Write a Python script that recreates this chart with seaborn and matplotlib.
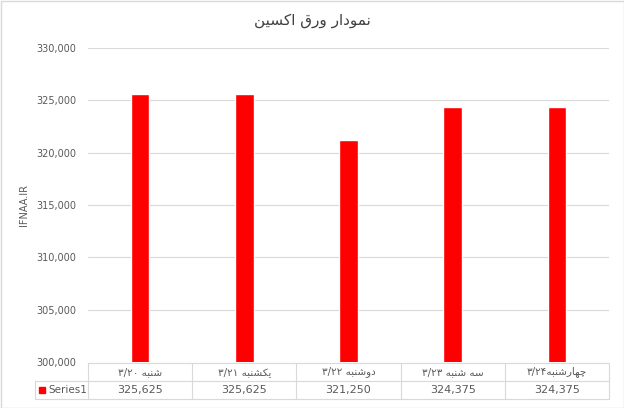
import matplotlib
matplotlib.use('Agg')
import matplotlib.pyplot as plt
import seaborn as sns
import pandas as pd
from matplotlib.patches import Rectangle

# chart data
days = ['شنبه ۳/۲۰', 'یکشنبه ۳/۲۱', 'دوشنبه ۳/۲۲', 'سه شنبه ۳/۲۳', 'چهارشنبه۳/۲۴']
prices = [325625, 325625, 321250, 324375, 324375]
series_name = 'Series1'
title = 'نمودار ورق اکسین'
ylabel = 'IFNAA.IR'

# simple persian shaping (matplotlib has no arabic shaping / rtl)
forms = {
    'ا': ('\uFE8D', '\uFE8E', None, None),
    'ب': ('\uFE8F', '\uFE90', '\uFE91', '\uFE92'),
    'د': ('\uFEA9', '\uFEAA', None, None),
    'ر': ('\uFEAD', '\uFEAE', None, None),
    'س': ('\uFEB1', '\uFEB2', '\uFEB3', '\uFEB4'),
    'ش': ('\uFEB5', '\uFEB6', '\uFEB7', '\uFEB8'),
    'ق': ('\uFED5', '\uFED6', '\uFED7', '\uFED8'),
    'م': ('\uFEE1', '\uFEE2', '\uFEE3', '\uFEE4'),
    'ن': ('\uFEE5', '\uFEE6', '\uFEE7', '\uFEE8'),
    'ه': ('\uFEE9', '\uFEEA', '\uFEEB', '\uFEEC'),
    'و': ('\uFEED', '\uFEEE', None, None),
    'ی': ('\uFBFC', '\uFBFD', '\uFBFE', '\uFBFF'),
    'ک': ('\uFB8E', '\uFB8F', '\uFB90', '\uFB91'),
    'چ': ('\uFB7A', '\uFB7B', '\uFB7C', '\uFB7D'),
}


def shape_word(w):
    out = []
    for i, ch in enumerate(w):
        f = forms[ch]
        prev_joins = i > 0 and forms[w[i - 1]][2] is not None
        next_exists = i < len(w) - 1
        can_join_next = f[2] is not None and next_exists
        if prev_joins and can_join_next:
            out.append(f[3])
        elif prev_joins:
            out.append(f[1])
        elif can_join_next:
            out.append(f[2])
        else:
            out.append(f[0])
    return ''.join(out)


def fa_word(word):
    # split a word into arabic / other runs, shape, lay out right to left
    runs = []
    cur, cur_ar = '', None
    for ch in word:
        is_ar = ch in forms
        if cur and is_ar != cur_ar:
            runs.append((cur, cur_ar))
            cur = ''
        cur += ch
        cur_ar = is_ar
    if cur:
        runs.append((cur, cur_ar))
    parts = [shape_word(r)[::-1] if a else r for r, a in runs]
    return ''.join(parts[::-1])


def fa(text):
    return ' '.join(fa_word(w) for w in text.split(' ')[::-1])


sns.set_theme(style='white')
plt.rcParams['font.family'] = ['DejaVu Sans']
txt = '#595959'
grid = '#d9d9d9'

df = pd.DataFrame({'day': days, 'price': prices})

fig = plt.figure(figsize=(6.24, 4.08), dpi=100)
W, H = 624, 408
x0, x1, y0, y1 = 88, 609, 48, 362
ax = fig.add_axes([x0 / W, 1 - y1 / H, (x1 - x0) / W, (y1 - y0) / H])

sns.barplot(data=df, x='day', y='price', color='#ff0000', width=0.18,
            saturation=1, ax=ax, zorder=3)
ax.set_ylim(300000, 330000)
ax.set_yticks(range(300000, 330001, 5000))
ax.set_yticklabels([f'{v:,}' for v in range(300000, 330001, 5000)],
                   fontsize=7, color=txt)
ax.tick_params(axis='y', length=0, pad=8.5)
ax.set_xticks([])
ax.set_xlabel('')
ax.set_ylabel('')
ax.yaxis.grid(True, color=grid, lw=0.8, zorder=0)
for s in ax.spines.values():
    s.set_visible(False)

fig.text(24 / W, 1 - 205 / H, ylabel, rotation=90, ha='center', va='center',
         fontsize=7, color=txt)
fig.text(312 / W, 1 - 20 / H, fa(title), ha='center', va='center',
         fontsize=11, color='#404040')

# data table under the axis
tl = 35
r0, r1, r2 = 363, 381, 399
n = len(days)
cw = (x1 - x0) / n


def px(x, y):
    return x / W, 1 - y / H


def hline(y, xa, xb):
    fig.add_artist(plt.Line2D([xa / W, xb / W], [1 - y / H, 1 - y / H],
                              color=grid, lw=0.8))


def vline(x, ya, yb):
    fig.add_artist(plt.Line2D([x / W, x / W], [1 - ya / H, 1 - yb / H],
                              color=grid, lw=0.8))


hline(r0, x0, x1)
hline(r1, tl, x1)
hline(r2, tl, x1)
vline(tl, r1, r2)
for i in range(n + 1):
    vline(x0 + i * cw, r0, r2)

for i, (d, p) in enumerate(zip(days, prices)):
    cx = x0 + (i + 0.5) * cw
    fig.text(*px(cx, (r0 + r1) / 2), fa(d), ha='center', va='center',
             fontsize=7.5, color=txt)
    fig.text(*px(cx, (r1 + r2) / 2), f'{p:,}', ha='center', va='center',
             fontsize=8, color=txt)

fig.add_artist(Rectangle(px(39, (r1 + r2) / 2 + 3), 6 / W, 6 / H,
                         color='#ff0000'))
fig.text(*px(48, (r1 + r2) / 2), series_name, ha='left', va='center',
         fontsize=7.5, color=txt)

# chart border
fig.add_artist(Rectangle((0.5 / W, 0.5 / H), 1 - 1 / W, 1 - 1 / H,
                         fill=False, edgecolor=grid, lw=1))

fig.savefig('out.png', dpi=100)
